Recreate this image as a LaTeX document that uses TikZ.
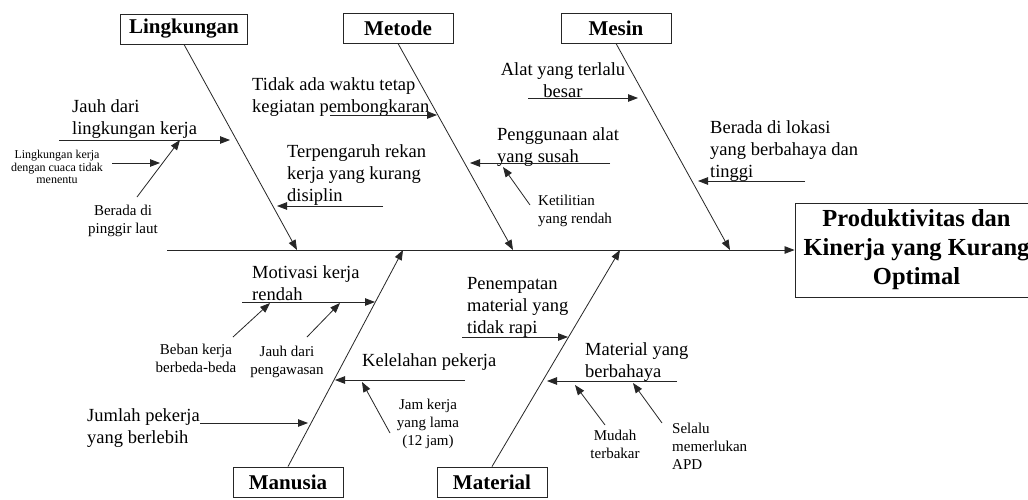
\documentclass[tikz,border=0pt]{standalone}
\usepackage{fontspec}
\setmainfont{Liberation Serif}
\usetikzlibrary{arrows.meta}
\tikzset{
  >={Triangle[length=10pt,width=7.5pt]},
  bone/.style={->,line width=0.8pt,draw=black!85},
  twig/.style={->,line width=0.8pt,draw=black!85},
  cat/.style={draw=black!85,line width=0.9pt,minimum width=110pt,minimum height=30pt,
    inner xsep=9pt,font=\fontsize{21}{24}\selectfont\bfseries},
  effect/.style={draw=black!85,line width=0.9pt,minimum width=243pt,minimum height=94pt,
    align=center,font=\fontsize{24.5}{29}\selectfont\bfseries},
  cause/.style={inner sep=0pt,align=left,font=\fontsize{18.5}{22}\selectfont},
  note/.style={inner sep=0pt,align=center,font=\fontsize{15}{18}\selectfont},
  mini note/.style={inner sep=0pt,align=center,font=\fontsize{12}{12.5}\selectfont},
}
\begin{document}
\begin{tikzpicture}[x=1pt,y=-1pt]
  \useasboundingbox (0,0) rectangle (1028,499);
  \fill[white] (0,0) rectangle (1028,499);

  % head and spine
  \node[effect] (res) at (916.5,250) {Produktivitas dan\\Kinerja yang Kurang\\Optimal};
  \coordinate (tail) at (167,250);
  \draw[bone] (tail) -- (res.west);

  % categories
  \node[cat] (lk) at (184,29) {Lingkungan};
  \node[cat] (me) at (398,28) {Metode};
  \node[cat] (ms) at (616,28) {Mesin};
  \node[cat] (mn) at (288,482) {Manusia};
  \node[cat] (mt) at (492,482) {Material};

  \coordinate (lkE) at (297,250);
  \coordinate (meE) at (513,250);
  \coordinate (msE) at (730,250);
  \coordinate (mnE) at (403,250);
  \coordinate (mtE) at (620,250);
  \draw[bone] (lk.south) -- (lkE);
  \draw[bone] (me.south) -- (meE);
  \draw[bone] (ms.south) -- (msE);
  \draw[bone] (mn.north) -- (mnE);
  \draw[bone] (mt.north) -- (mtE);

  % Lingkungan
  \node[cause,anchor=north west] (jauh) at (72,99) {Jauh dari\\lingkungan kerja};
  \coordinate (jauhA) at (59,140);
  \coordinate (jauhB) at (230,140);
  \draw[twig] (jauhA) -- (jauhB);
  \node[mini note,anchor=north] (cuaca) at (57,150) {Lingkungan kerja\\dengan cuaca tidak\\menentu};
  \coordinate (cuacaA) at (112,163);
  \coordinate (cuacaB) at (160,163);
  \draw[twig] (cuacaA) -- (cuacaB);
  \node[note,anchor=north] (laut) at (123,205) {Berada di\\pinggir laut};
  \coordinate (lautA) at (137,197);
  \coordinate (lautB) at (180,140);
  \draw[twig] (lautA) -- (lautB);
  \node[cause,anchor=north west] (rekan) at (287,144) {Terpengaruh rekan\\kerja yang kurang\\disiplin};
  \coordinate (rekanA) at (383,206);
  \coordinate (rekanB) at (277,206);
  \draw[twig] (rekanA) -- (rekanB);

  % Metode
  \node[cause,anchor=north west] (waktu) at (252,77) {Tidak ada waktu tetap\\kegiatan pembongkaran};
  \coordinate (waktuA) at (330,115);
  \coordinate (waktuB) at (437,115);
  \draw[twig] (waktuA) -- (waktuB);

  % Mesin
  \node[cause,anchor=north,align=center] (besar) at (563,62) {Alat yang terlalu\\besar};
  \coordinate (besarA) at (528,98);
  \coordinate (besarB) at (638,98);
  \draw[twig] (besarA) -- (besarB);
  \node[cause,anchor=north west] (susah) at (497,127) {Penggunaan alat\\yang susah};
  \coordinate (susahA) at (610,163);
  \coordinate (susahB) at (470,163);
  \draw[twig] (susahA) -- (susahB);
  \node[note,anchor=north west,align=left] (teliti) at (538,195) {Ketilitian\\yang rendah};
  \coordinate (telitiA) at (530,205);
  \coordinate (telitiB) at (503,167);
  \draw[twig] (telitiA) -- (telitiB);
  \node[cause,anchor=north west] (lokasi) at (710,120) {Berada di lokasi\\yang berbahaya dan\\tinggi};
  \coordinate (lokasiA) at (805,181);
  \coordinate (lokasiB) at (698,181);
  \draw[twig] (lokasiA) -- (lokasiB);

  % Manusia
  \node[cause,anchor=north west] (motiv) at (252,265) {Motivasi kerja\\rendah};
  \coordinate (motivA) at (242,302);
  \coordinate (motivB) at (375,302);
  \draw[twig] (motivA) -- (motivB);
  \node[note,anchor=north] (beban) at (196,344) {Beban kerja\\berbeda-beda};
  \coordinate (bebanA) at (233,337);
  \coordinate (bebanB) at (270,303);
  \draw[twig] (bebanA) -- (bebanB);
  \node[note,anchor=north] (awas) at (287,346) {Jauh dari\\pengawasan};
  \coordinate (awasA) at (307,337);
  \coordinate (awasB) at (340,303);
  \draw[twig] (awasA) -- (awasB);
  \node[cause,anchor=north west] (jumlah) at (87,408) {Jumlah pekerja\\yang berlebih};
  \coordinate (jumlahA) at (200,423);
  \coordinate (jumlahB) at (308,423);
  \draw[twig] (jumlahA) -- (jumlahB);
  \node[cause,anchor=north west] (lelah) at (362,353) {Kelelahan pekerja};
  \coordinate (lelahA) at (465,380);
  \coordinate (lelahB) at (335,380);
  \draw[twig] (lelahA) -- (lelahB);
  \node[note,anchor=north] (jam) at (428,399) {Jam kerja\\yang lama\\(12 jam)};
  \coordinate (jamA) at (390,433);
  \coordinate (jamB) at (362,382);
  \draw[twig] (jamA) -- (jamB);

  % Material
  \node[cause,anchor=north west] (rapi) at (467,277) {Penempatan\\material yang\\tidak rapi};
  \coordinate (rapiA) at (462,337);
  \coordinate (rapiB) at (568,337);
  \draw[twig] (rapiA) -- (rapiB);
  \node[cause,anchor=north west] (bahaya) at (585,342) {Material yang\\berbahaya};
  \coordinate (bahayaA) at (677,381);
  \coordinate (bahayaB) at (547,381);
  \draw[twig] (bahayaA) -- (bahayaB);
  \node[note,anchor=north] (bakar) at (615,430) {Mudah\\terbakar};
  \coordinate (bakarA) at (605,425);
  \coordinate (bakarB) at (575,385);
  \draw[twig] (bakarA) -- (bakarB);
  \node[note,anchor=north west,align=left] (apd) at (672,423) {Selalu\\memerlukan\\APD};
  \coordinate (apdA) at (662,423);
  \coordinate (apdB) at (633,383);
  \draw[twig] (apdA) -- (apdB);
\end{tikzpicture}
\end{document}
